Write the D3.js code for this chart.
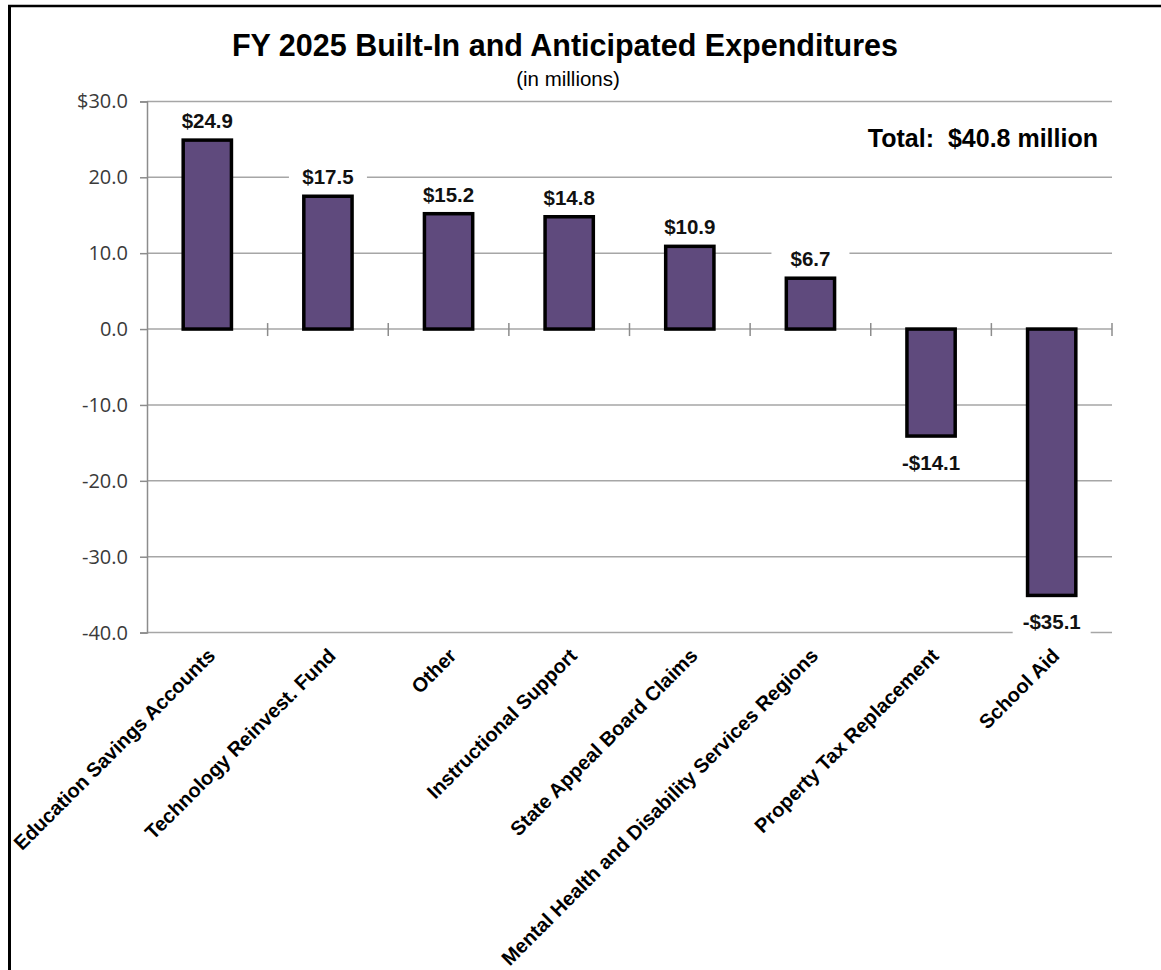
<!DOCTYPE html>
<html>
<head>
<meta charset="utf-8">
<script src="https://cdn.jsdelivr.net/npm/d3@7"></script>
<style>
  html, body { margin: 0; padding: 0; background: #fff; }
  svg { display: block; }
</style>
</head>
<body>
<svg id="chart" width="1161" height="970"></svg>
<script>
const categories = [
  "Education Savings Accounts",
  "Technology Reinvest. Fund",
  "Other",
  "Instructional Support",
  "State Appeal Board Claims",
  "Mental Health and Disability Services Regions",
  "Property Tax Replacement",
  "School Aid"
];
const values = [24.9, 17.5, 15.2, 14.8, 10.9, 6.7, -14.1, -35.1];
const yTicks = [30, 20, 10, 0, -10, -20, -30, -40];
const yTickLabels = ["$30.0", "20.0", "10.0", "0.0", "-10.0", "-20.0", "-30.0", "-40.0"];
const valueLabels = ["$24.9", "$17.5", "$15.2", "$14.8", "$10.9", "$6.7", "-$14.1", "-$35.1"];
const titleText = "FY 2025 Built-In and Anticipated Expenditures";
const subtitleText = "(in millions)";
const totalText = "Total:  $40.8 million";

const svg = d3.select("#chart");
const left = 147, right = 1112;

const x = d3.scaleBand().domain(categories).range([left, right])
  .paddingInner(0.6).paddingOuter(0.3);
const y = d3.scaleLinear().domain([-40, 30]).range([632.6, 101.4]);
const step = x.step();

// frame
svg.append("line").attr("x1", 8).attr("x2", 1161).attr("y1", 6).attr("y2", 6)
  .attr("stroke", "#000").attr("stroke-width", 2.5);
svg.append("line").attr("x1", 9.5).attr("x2", 9.5).attr("y1", 5).attr("y2", 970)
  .attr("stroke", "#000").attr("stroke-width", 3);

// title
svg.append("text").attr("x", 565).attr("y", 56).attr("text-anchor", "middle")
  .attr("font-family", "Liberation Sans, Arial, sans-serif").attr("font-weight", "bold")
  .attr("font-size", 30.5).attr("fill", "#000").text(titleText);
svg.append("text").attr("x", 568).attr("y", 86).attr("text-anchor", "middle")
  .attr("font-family", "Liberation Sans, Arial, sans-serif")
  .attr("font-size", 20.5).attr("fill", "#000").text(subtitleText);

// gridlines
svg.append("g").selectAll("line").data(yTicks).join("line")
  .attr("x1", left).attr("x2", right)
  .attr("y1", d => y(d)).attr("y2", d => y(d))
  .attr("stroke", "#a6a6a6").attr("stroke-width", 1.5);

// y axis
const yAxis = d3.axisLeft(y).tickValues(yTicks)
  .tickFormat((d, i) => yTickLabels[i]).tickSize(7).tickPadding(12);
const gy = svg.append("g").attr("transform", `translate(${left},0)`).call(yAxis);
gy.select(".domain").attr("stroke", "#8c8c8c").attr("stroke-width", 1.5);
gy.selectAll(".tick line").attr("stroke", "#8c8c8c").attr("stroke-width", 1.5);
gy.selectAll(".tick text").attr("font-family", "Open Sans, sans-serif")
  .attr("font-size", 20).attr("fill", "#3a3a3a");

// category tick marks across zero line
const boundaries = d3.range(1, categories.length + 1).map(k => left + k * step);
svg.append("g").selectAll("line").data(boundaries).join("line")
  .attr("x1", d => d).attr("x2", d => d)
  .attr("y1", y(0) - 6).attr("y2", y(0) + 7)
  .attr("stroke", "#8c8c8c").attr("stroke-width", 1.5);

// bars
svg.append("g").selectAll("rect").data(values).join("rect")
  .attr("x", (d, i) => x(categories[i]))
  .attr("width", x.bandwidth())
  .attr("y", d => y(Math.max(0, d)))
  .attr("height", d => Math.abs(y(d) - y(0)))
  .attr("fill", "#5f4a7d")
  .attr("stroke", "#000").attr("stroke-width", 3.5);

// value labels with white background
const lab = svg.append("g").selectAll("g").data(values).join("g")
  .attr("transform", (d, i) => {
    const cx = x(categories[i]) + x.bandwidth() / 2;
    const by = d >= 0 ? y(d) - 12 : y(d) + 34;
    return `translate(${cx},${by})`;
  });
lab.append("rect").attr("x", -39).attr("y", -22).attr("width", 78).attr("height", 30)
  .attr("fill", "#fff");
lab.append("text").attr("text-anchor", "middle")
  .attr("font-family", "Liberation Sans, Arial, sans-serif").attr("font-weight", "bold")
  .attr("font-size", 20.5).attr("fill", "#111")
  .text((d, i) => valueLabels[i]);

// total
svg.append("text").attr("x", 1098).attr("y", 147).attr("text-anchor", "end")
  .style("white-space", "pre")
  .attr("font-family", "Liberation Sans, Arial, sans-serif").attr("font-weight", "bold")
  .attr("font-size", 25).attr("fill", "#000").text(totalText);

// category labels
svg.append("g").selectAll("text").data(categories).join("text")
  .attr("transform", d => `translate(${x(d) + x.bandwidth() / 2 + 9},${657}) rotate(-45)`)
  .attr("text-anchor", "end")
  .attr("font-family", "Liberation Sans, Arial, sans-serif").attr("font-weight", "bold")
  .attr("font-size", 20).attr("fill", "#000")
  .text(d => d);
</script>
</body>
</html>
